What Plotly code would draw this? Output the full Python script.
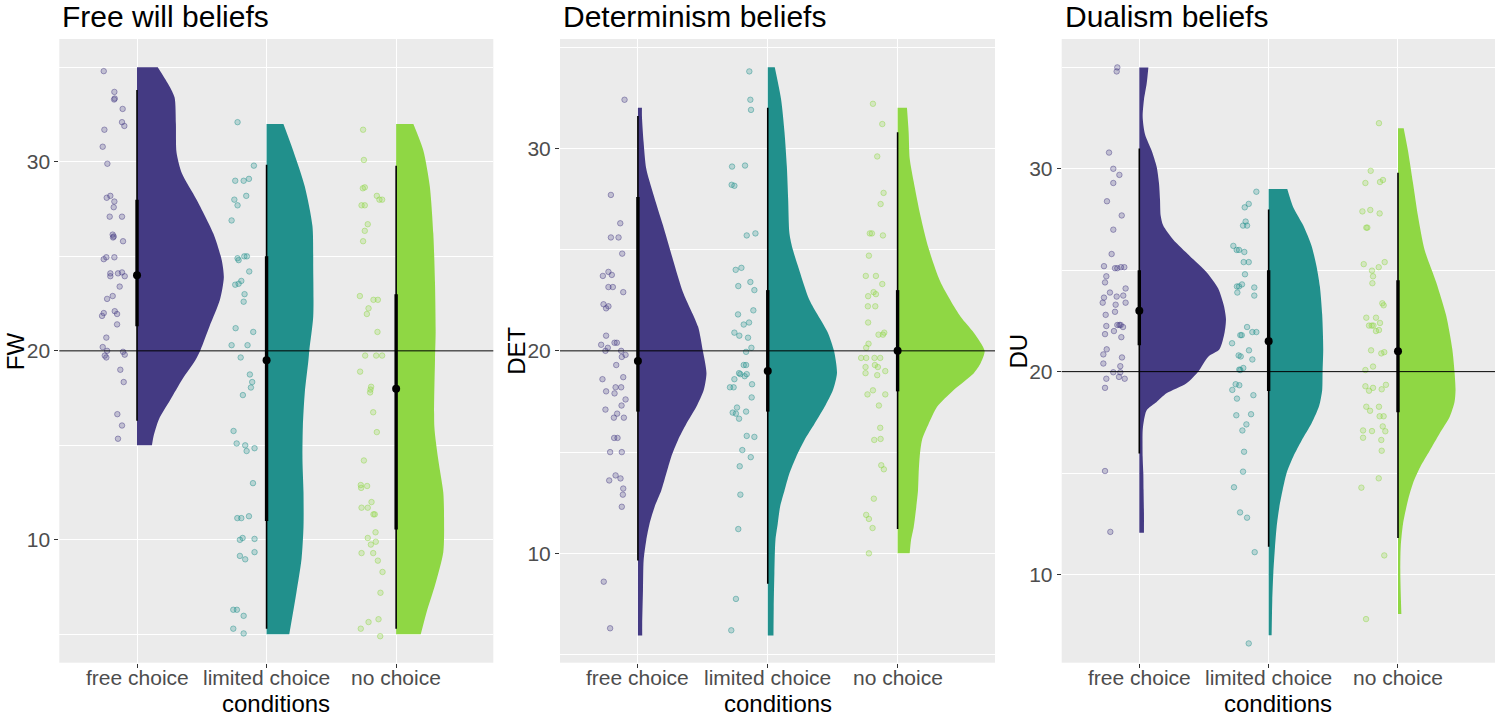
import plotly.graph_objects as go

# categories and fill colours (viridis-like)
conditions = ["free choice", "limited choice", "no choice"]
colors = ["#443A83", "#21908C", "#8FD744"]
pt_fill = ["rgba(68,58,131,0.25)", "rgba(33,144,140,0.25)", "rgba(143,215,68,0.25)"]
pt_line = ["rgba(68,58,131,0.5)", "rgba(33,144,140,0.5)", "rgba(143,215,68,0.5)"]

titles = ["Free will beliefs", "Determinism beliefs", "Dualism beliefs"]
ylabels = ["FW", "DET", "DU"]
ref_value = 20

# ---------------- FW: raw points (score, jitter offset) ----------------
fw_free_y = [34.8, 33.7, 33.3, 33.35, 32.8, 32.1, 31.9, 31.7, 30.8, 29.9, 28.2, 28.1, 27.9, 27.6,
             27.1, 27.1, 26.15, 26.05, 26.0, 25.8, 24.95, 24.85, 24.95, 24.1, 23.95, 24.1, 24.15,
             23.95, 23.4, 22.75, 22.9, 22.0, 21.85, 22.1, 21.95, 21.4, 20.7, 20.2, 20.0, 19.75,
             19.65, 19.95, 19.8, 19.0, 18.35, 16.65, 16.05, 15.35]
fw_free_dx = [-0.257, -0.175, -0.177, -0.172, -0.111, -0.116, -0.098, -0.252, -0.265, -0.229,
              -0.206, -0.234, -0.175, -0.18, -0.211, -0.116, -0.188, -0.18, -0.185, -0.108,
              -0.237, -0.257, -0.175, -0.206, -0.206, -0.147, -0.116, -0.095, -0.134, -0.231,
              -0.188, -0.257, -0.27, -0.172, -0.154, -0.154, -0.237, -0.265, -0.231, -0.249,
              -0.237, -0.108, -0.095, -0.129, -0.103, -0.152, -0.116, -0.147]
fw_lim_y = [32.1, 29.8, 29.0, 29.0, 29.1, 28.0, 27.7, 28.2, 26.9, 24.9, 24.8, 25.0, 25.0, 24.2,
            23.5, 23.55, 23.7, 23.0, 22.6, 21.2, 21.0, 20.3, 20.3, 19.65, 18.75, 18.35, 18.06,
            17.66, 15.76, 15.1, 15.0, 14.85, 14.7, 13.0, 11.15, 11.15, 11.25, 10.0, 10.1, 10.05,
            9.35, 9.15, 8.97, 6.3, 6.3, 5.98, 5.3, 5.05]
fw_lim_dx = [-0.224, -0.098, -0.242, -0.177, -0.136, -0.249, -0.224, -0.157, -0.27, -0.224,
             -0.216, -0.172, -0.152, -0.134, -0.242, -0.216, -0.195, -0.17, -0.177, -0.239,
             -0.103, -0.27, -0.147, -0.2, -0.129, -0.111, -0.121, -0.183, -0.255, -0.231,
             -0.165, -0.093, -0.154, -0.105, -0.226, -0.195, -0.136, -0.206, -0.185, -0.093,
             -0.093, -0.206, -0.165, -0.257, -0.229, -0.177, -0.257, -0.177]
fw_no_y = [31.7, 30.1, 28.6, 28.65, 28.2, 28.0, 28.0, 27.7, 27.7, 26.7, 26.35, 25.8, 22.9, 22.7,
           22.7, 22.25, 21.95, 21.0, 19.75, 19.75, 19.75, 18.9, 18.1, 17.95, 17.8, 16.75, 15.7,
           14.2, 12.9, 12.85, 12.75, 12.0, 11.7, 11.7, 11.35, 11.35, 10.4, 10.1, 9.9, 9.75, 9.3,
           9.3, 8.9, 8.3, 7.2, 5.8, 5.65, 5.3, 4.9]
fw_no_dx = [-0.255, -0.249, -0.257, -0.242, -0.149, -0.108, -0.129, -0.267, -0.242, -0.219,
            -0.242, -0.255, -0.28, -0.175, -0.141, -0.213, -0.226, -0.144, -0.239, -0.154,
            -0.108, -0.278, -0.193, -0.198, -0.201, -0.177, -0.149, -0.249, -0.273, -0.224,
            -0.27, -0.19, -0.267, -0.219, -0.175, -0.165, -0.159, -0.219, -0.157, -0.195,
            -0.267, -0.177, -0.141, -0.105, -0.121, -0.136, -0.213, -0.273, -0.123]

# ---------------- DET: raw points ----------------
det_free_y = [32.4, 27.7, 26.3, 25.6, 25.6, 24.8, 23.7, 23.9, 23.75, 23.15, 23.15, 22.9, 22.3,
              22.1, 22.2, 20.75, 20.3, 20.4, 20.4, 20.0, 20.15, 20.0, 19.7, 19.8, 19.3, 18.7,
              18.6, 18.2, 18.2, 18.0, 17.9, 17.6, 17.3, 17.1, 16.9, 16.7, 16.7, 15.7, 15.7, 15.0,
              15.0, 13.85, 13.6, 13.7, 13.2, 12.9, 12.3, 8.6, 6.3]
det_free_dx = [-0.103, -0.208, -0.136, -0.208, -0.149, -0.121, -0.27, -0.227, -0.201, -0.227,
               -0.193, -0.113, -0.265, -0.245, -0.227, -0.245, -0.283, -0.18, -0.162, -0.25,
               -0.232, -0.129, -0.124, -0.095, -0.167, -0.113, -0.273, -0.172, -0.129, -0.245,
               -0.18, -0.095, -0.126, -0.25, -0.16, -0.185, -0.108, -0.183, -0.157, -0.214,
               -0.124, -0.172, -0.221, -0.134, -0.113, -0.116, -0.124, -0.263, -0.214]
det_lim_y = [33.8, 32.4, 31.9, 29.1, 29.15, 28.2, 28.15, 25.7, 25.8, 24.0, 24.1, 23.2, 23.4, 23.0,
             22.0, 21.8, 21.3, 21.4, 20.9, 20.75, 20.65, 20.15, 19.95, 19.3, 19.3, 18.9, 18.85,
             18.75, 18.85, 18.6, 18.35, 18.2, 18.2, 17.7, 17.2, 17.0, 16.95, 16.9, 16.65, 15.8,
             15.75, 15.1, 14.75, 14.3, 12.9, 11.2, 7.75, 6.2]
det_lim_dx = [-0.142, -0.134, -0.129, -0.275, -0.175, -0.278, -0.257, -0.162, -0.095, -0.247,
              -0.203, -0.227, -0.134, -0.103, -0.111, -0.229, -0.185, -0.144, -0.257, -0.219,
              -0.152, -0.126, -0.167, -0.185, -0.167, -0.221, -0.211, -0.178, -0.162, -0.257,
              -0.121, -0.291, -0.263, -0.124, -0.237, -0.167, -0.27, -0.245, -0.221, -0.162,
              -0.103, -0.196, -0.131, -0.216, -0.211, -0.227, -0.245, -0.281]
det_no_y = [32.2, 31.2, 29.6, 27.8, 27.25, 25.8, 25.8, 25.7, 24.7, 23.7, 23.7, 23.3, 22.7, 22.9,
            22.8, 22.2, 22.2, 21.4, 20.8, 20.8, 20.9, 20.35, 20.15, 19.65, 19.65, 19.65, 19.65,
            19.2, 19.3, 19.2, 18.9, 18.8, 19.0, 18.05, 17.85, 17.85, 17.3, 16.2, 15.6, 15.65,
            14.35, 14.15, 12.7, 11.9, 11.7, 11.25, 10.0]
det_no_dx = [-0.19, -0.118, -0.157, -0.108, -0.131, -0.214, -0.198, -0.113, -0.221, -0.245,
             -0.167, -0.118, -0.227, -0.185, -0.167, -0.229, -0.172, -0.227, -0.147, -0.113,
             -0.103, -0.224, -0.242, -0.281, -0.242, -0.178, -0.134, -0.247, -0.175, -0.152,
             -0.247, -0.157, -0.095, -0.19, -0.232, -0.095, -0.144, -0.134, -0.18, -0.131,
             -0.126, -0.106, -0.183, -0.242, -0.221, -0.193, -0.221]

# ---------------- DU: raw points ----------------
du_free_y = [35.0, 34.8, 30.8, 30.0, 29.7, 29.3, 28.4, 27.7, 27.0, 25.8, 25.2, 25.1, 25.1, 25.15,
             25.15, 24.7, 24.4, 24.1, 23.65, 23.9, 23.7, 23.75, 23.4, 23.4, 23.3, 22.95, 22.8,
             22.3, 22.3, 22.3, 22.25, 22.2, 21.7, 22.0, 21.85, 21.1, 20.85, 20.7, 20.4, 20.27,
             19.97, 19.97, 19.74, 19.65, 19.65, 19.2, 15.1, 12.1]
du_free_dx = [-0.17, -0.175, -0.234, -0.201, -0.154, -0.201, -0.25, -0.136, -0.201, -0.214,
              -0.273, -0.188, -0.17, -0.142, -0.116, -0.255, -0.265, -0.106, -0.273, -0.227,
              -0.175, -0.124, -0.283, -0.106, -0.183, -0.188, -0.26, -0.17, -0.154, -0.144,
              -0.255, -0.126, -0.139, -0.196, -0.265, -0.252, -0.278, -0.134, -0.278, -0.147,
              -0.201, -0.147, -0.157, -0.113, -0.255, -0.265, -0.265, -0.224]
du_lim_y = [28.87, 28.27, 28.1, 27.4, 27.2, 27.2, 26.2, 26.0, 26.0, 25.9, 25.4, 25.4, 24.8, 24.3,
            24.2, 24.2, 23.9, 24.15, 23.75, 22.2, 21.4, 21.8, 21.8, 21.95, 21.95, 21.05, 20.8,
            20.75, 20.6, 20.18, 20.1, 20.08, 19.38, 19.33, 19.1, 18.84, 18.67, 17.9, 17.85, 17.4,
            17.1, 16.05, 15.07, 14.3, 13.06, 12.8, 11.1, 6.6]
du_lim_dx = [-0.095, -0.154, -0.185, -0.178, -0.167, -0.198, -0.273, -0.247, -0.229, -0.188,
             -0.193, -0.154, -0.183, -0.206, -0.245, -0.229, -0.242, -0.111, -0.111, -0.167,
             -0.283, -0.219, -0.208, -0.126, -0.095, -0.152, -0.232, -0.216, -0.126, -0.196,
             -0.227, -0.219, -0.255, -0.227, -0.281, -0.118, -0.245, -0.136, -0.25, -0.172,
             -0.203, -0.19, -0.198, -0.268, -0.221, -0.167, -0.108, -0.154]
du_no_y = [32.25, 29.9, 29.3, 29.35, 29.45, 27.9, 27.97, 27.8, 27.1, 27.1, 25.3, 24.98, 25.15,
           25.4, 24.7, 24.36, 23.37, 23.27, 22.66, 22.66, 22.27, 22.27, 22.27, 22.4, 22.0, 22.05,
           21.05, 20.9, 20.96, 20.25, 20.08, 19.28, 19.06, 19.2, 19.13, 19.35, 18.27, 18.07,
           18.27, 17.8, 17.8, 17.1, 17.07, 17.06, 17.3, 16.74, 16.63, 16.1, 14.74, 14.28, 10.94,
           7.8]
du_no_dx = [-0.147, -0.211, -0.252, -0.139, -0.116, -0.275, -0.214, -0.142, -0.245, -0.237,
            -0.265, -0.201, -0.149, -0.103, -0.193, -0.198, -0.121, -0.111, -0.245, -0.17,
            -0.224, -0.203, -0.19, -0.139, -0.17, -0.147, -0.208, -0.129, -0.106, -0.193,
            -0.252, -0.252, -0.224, -0.193, -0.126, -0.093, -0.245, -0.216, -0.147, -0.142,
            -0.111, -0.27, -0.201, -0.098, -0.118, -0.27, -0.129, -0.126, -0.149, -0.283,
            -0.106, -0.247]

# ---------------- half-violin density profiles (score level, half width) ----------------
fw_free_vy = [15.0, 15.5, 16.4, 17.4, 18.5, 19.5, 20.05, 21.3, 22.7, 23.9, 24.8, 26.2, 28.0,
              29.4, 30.5, 32.0, 33.4, 34.0, 34.5, 35.0]
fw_free_vw = [0.115, 0.128, 0.17, 0.256, 0.35, 0.45, 0.49, 0.56, 0.64, 0.67, 0.654, 0.59, 0.46,
              0.346, 0.305, 0.30, 0.29, 0.25, 0.206, 0.16]
fw_lim_vy = [5.0, 7.2, 9.0, 10.7, 12.5, 14.25, 16.0, 17.8, 19.5, 20.05, 21.8, 24.4, 26.6, 28.7,
             30.6, 32.0]
fw_lim_vw = [0.175, 0.23, 0.27, 0.285, 0.285, 0.277, 0.28, 0.295, 0.323, 0.33, 0.36, 0.36, 0.354,
             0.295, 0.205, 0.13]
fw_no_vy = [5.0, 6.2, 7.6, 9.35, 11.1, 12.5, 14.25, 16.0, 19.5, 21.0, 23.6, 26.2, 28.7, 30.6, 32.0]
fw_no_vw = [0.19, 0.236, 0.30, 0.364, 0.37, 0.364, 0.325, 0.295, 0.30, 0.305, 0.30, 0.287, 0.26,
            0.21, 0.133]

det_free_vy = [5.94, 6.5, 8.17, 9.65, 10.64, 11.47, 12.3, 13.1, 13.95, 14.77, 15.6, 16.4, 17.24,
               18.07, 18.9, 20.0, 21.2, 22.9, 24.5, 26.2, 27.8, 29.0, 30.3, 31.6, 32.0]
det_free_vw = [0.033, 0.033, 0.039, 0.044, 0.064, 0.09, 0.129, 0.18, 0.219, 0.257, 0.309, 0.373,
               0.45, 0.507, 0.528, 0.50, 0.463, 0.347, 0.27, 0.193, 0.116, 0.064, 0.044, 0.031,
               0.031]
det_lim_vy = [5.94, 7.3, 9.0, 10.64, 11.47, 12.3, 13.1, 13.95, 14.77, 15.6, 16.4, 17.24, 18.07,
              18.9, 20.0, 20.9, 22.5, 24.2, 25.0, 25.8, 27.5, 29.1, 30.8, 32.4, 34.0]
det_lim_vw = [0.044, 0.046, 0.051, 0.059, 0.077, 0.095, 0.129, 0.167, 0.219, 0.283, 0.36, 0.438,
              0.502, 0.533, 0.51, 0.463, 0.322, 0.232, 0.193, 0.167, 0.157, 0.147, 0.129, 0.103,
              0.054]
det_no_vy = [10.0, 10.64, 11.3, 12.3, 13.1, 13.95, 14.77, 15.6, 16.4, 17.24, 18.07, 18.9, 19.4,
             20.0, 20.9, 21.7, 23.4, 25.05, 26.7, 28.35, 29.5, 30.8, 32.0]
det_no_vw = [0.093, 0.103, 0.124, 0.144, 0.157, 0.162, 0.17, 0.188, 0.239, 0.304, 0.432, 0.587,
             0.64, 0.67, 0.587, 0.484, 0.33, 0.239, 0.175, 0.124, 0.093, 0.085, 0.072]

du_free_vy = [12.06, 13.0, 14.16, 15.0, 15.8, 17.1, 17.6, 18.1, 18.5, 18.93, 19.43, 20.0, 20.74,
              21.1, 21.95, 22.6, 23.25, 24.1, 24.9, 25.7, 26.5, 27.2, 27.7, 28.5, 29.3, 30.1,
              30.9, 31.7, 32.55, 33.4, 34.2, 35.0]
du_free_vw = [0.036, 0.036, 0.033, 0.031, 0.026, 0.026, 0.036, 0.057, 0.134, 0.21, 0.365, 0.455,
              0.533, 0.62, 0.66, 0.67, 0.654, 0.61, 0.52, 0.39, 0.263, 0.185, 0.165, 0.16, 0.152,
              0.134, 0.095, 0.044, 0.026, 0.036, 0.057, 0.07]
du_lim_vy = [7.0, 8.7, 10.05, 11.35, 12.35, 13.3, 14.16, 15.0, 15.8, 16.6, 17.45, 18.3, 19.1,
             20.0, 21.1, 22.8, 24.2, 25.2, 26.2, 27.2, 28.1, 29.0]
du_lim_vw = [0.023, 0.028, 0.036, 0.049, 0.062, 0.082, 0.108, 0.139, 0.19, 0.255, 0.332, 0.39,
             0.414, 0.417, 0.422, 0.414, 0.396, 0.37, 0.332, 0.268, 0.19, 0.144]
du_no_vy = [8.05, 10.05, 11.35, 12.5, 13.66, 14.5, 15.3, 16.1, 16.95, 17.77, 18.5, 19.1, 20.0,
            21.1, 22.75, 24.4, 26.0, 27.7, 29.3, 30.9, 32.0]
du_no_vw = [0.026, 0.018, 0.021, 0.039, 0.077, 0.116, 0.172, 0.245, 0.322, 0.40, 0.437, 0.445,
            0.437, 0.42, 0.373, 0.296, 0.206, 0.154, 0.116, 0.077, 0.044]

# ---------------- interval summaries per condition ----------------
# median, thick interval (lo, hi), thin interval (lo, hi)
fw_median = [24.0, 19.5, 18.0]
fw_thick = [(21.3, 28.0), (11.0, 25.0), (10.55, 23.0)]
fw_thin = [(16.3, 33.8), (5.3, 29.85), (5.3, 29.8)]
det_median = [19.5, 19.0, 20.0]
det_thick = [(17.0, 27.6), (17.0, 23.0), (18.0, 23.0)]
det_thin = [(9.65, 31.6), (8.5, 32.0), (11.2, 30.8)]
du_median = [23.0, 21.5, 21.0]
du_thick = [(21.3, 25.0), (19.05, 25.0), (18.0, 24.5)]
du_thin = [(15.97, 31.0), (11.37, 28.0), (11.8, 29.8)]

y_ranges = [[3.5, 36.5], [4.6, 35.4], [5.65, 36.4]]

panels = [
    dict(pts=[(fw_free_y, fw_free_dx), (fw_lim_y, fw_lim_dx), (fw_no_y, fw_no_dx)],
         dens=[(fw_free_vy, fw_free_vw), (fw_lim_vy, fw_lim_vw), (fw_no_vy, fw_no_vw)],
         med=fw_median, thick=fw_thick, thin=fw_thin),
    dict(pts=[(det_free_y, det_free_dx), (det_lim_y, det_lim_dx), (det_no_y, det_no_dx)],
         dens=[(det_free_vy, det_free_vw), (det_lim_vy, det_lim_vw), (det_no_vy, det_no_vw)],
         med=det_median, thick=det_thick, thin=det_thin),
    dict(pts=[(du_free_y, du_free_dx), (du_lim_y, du_lim_dx), (du_no_y, du_no_dx)],
         dens=[(du_free_vy, du_free_vw), (du_lim_vy, du_lim_vw), (du_no_vy, du_no_vw)],
         med=du_median, thick=du_thick, thin=du_thin),
]

# the page's body margin is removed (see post_script), so pixels map 1:1
W, H = 1498, 718


def px_x(px):
    return px / W


def px_y(py):
    return 1 - py / H


x_px = [(59.3, 493.3), (560.0, 995.0), (1061.7, 1495.0)]
x_domains = [[px_x(a), px_x(b)] for a, b in x_px]
y_domain = [px_y(662.7), px_y(39)]
FONT = "Liberation Sans, Arial, sans-serif"

fig = go.Figure()

for p, panel in enumerate(panels):
    xa = "x" if p == 0 else "x%d" % (p + 1)
    ya = "y" if p == 0 else "y%d" % (p + 1)
    for i in range(3):
        pos = i + 1
        # jittered raw points
        py, pdx = panel["pts"][i]
        fig.add_trace(go.Scatter(
            x=[pos + d for d in pdx], y=py, mode="markers", xaxis=xa, yaxis=ya,
            marker=dict(size=5.5, color=pt_fill[i], line=dict(color=pt_line[i], width=0.9)),
            showlegend=False, hoverinfo="skip"))
        # half violin: straight left edge, smooth density curve filled towards it
        vy, vw = panel["dens"][i]
        fig.add_trace(go.Scatter(
            x=[pos, pos], y=[vy[0], vy[-1]], mode="lines", line=dict(width=0),
            xaxis=xa, yaxis=ya, showlegend=False, hoverinfo="skip"))
        fig.add_trace(go.Scatter(
            x=[pos + w for w in vw], y=vy, mode="lines", fill="tonextx", fillcolor=colors[i],
            line=dict(width=0, color=colors[i], shape="spline", smoothing=0.7),
            xaxis=xa, yaxis=ya, showlegend=False, hoverinfo="skip"))
        # interval + median
        fig.add_trace(go.Scatter(
            x=[pos, pos], y=list(panel["thin"][i]), mode="lines", xaxis=xa, yaxis=ya,
            line=dict(color="black", width=1.6), showlegend=False, hoverinfo="skip"))
        fig.add_trace(go.Scatter(
            x=[pos, pos], y=list(panel["thick"][i]), mode="lines", xaxis=xa, yaxis=ya,
            line=dict(color="black", width=3.4), showlegend=False, hoverinfo="skip"))
        fig.add_trace(go.Scatter(
            x=[pos], y=[panel["med"][i]], mode="markers", xaxis=xa, yaxis=ya,
            marker=dict(size=8, color="black"), showlegend=False, hoverinfo="skip"))

        # category label under the tick
        fig.add_annotation(text=conditions[i], xref=xa, yref="paper", x=pos, y=px_y(677),
                           xanchor="center", yanchor="middle", showarrow=False,
                           font=dict(family=FONT, size=21, color="#4D4D4D"))

    axis_x = dict(domain=x_domains[p], range=[0.4, 3.75], tickvals=[1, 2, 3],
                  showticklabels=False,
                  showgrid=True, gridcolor="white", gridwidth=1.2, zeroline=False,
                  ticks="outside", ticklen=4, tickcolor="#333333", tickwidth=1,
                  anchor=ya, showline=False, fixedrange=True)
    axis_y = dict(domain=y_domain, range=y_ranges[p], tick0=0, dtick=10,
                  showgrid=True, gridcolor="white", gridwidth=1.2, zeroline=False,
                  ticks="outside", ticklen=4, tickcolor="#333333", tickwidth=1,
                  tickfont=dict(family=FONT, size=21, color="#4D4D4D"), anchor=xa,
                  minor=dict(dtick=5, tick0=0, showgrid=True, gridcolor="white", gridwidth=0.6,
                             ticks=""),
                  showline=False, fixedrange=True)
    fig.update_layout({("xaxis" if p == 0 else "xaxis%d" % (p + 1)): axis_x,
                       ("yaxis" if p == 0 else "yaxis%d" % (p + 1)): axis_y})

    # reference line at 20
    fig.add_shape(type="line", xref=xa + " domain", yref=ya, x0=0, x1=1,
                  y0=ref_value, y1=ref_value, line=dict(color="black", width=1))

    left_px, right_px = x_px[p]
    fig.add_annotation(text=titles[p], xref="paper", yref="paper", x=px_x(left_px + 1),
                       y=px_y(17), xanchor="left", yanchor="middle", showarrow=False,
                       font=dict(family=FONT, size=30, color="black"))
    fig.add_annotation(text=ylabels[p], xref="paper", yref="paper", x=px_x(left_px - 43),
                       y=(y_domain[0] + y_domain[1]) / 2, xanchor="center", yanchor="middle",
                       textangle=-90, showarrow=False,
                       font=dict(family=FONT, size=24, color="black"))
    fig.add_annotation(text="conditions", xref="paper", yref="paper",
                       x=px_x((left_px + right_px) / 2), y=px_y(703),
                       xanchor="center", yanchor="middle", showarrow=False,
                       font=dict(family=FONT, size=24, color="black"))

fig.update_layout(width=W, height=H, margin=dict(l=0, r=0, t=0, b=0),
                  paper_bgcolor="white", plot_bgcolor="#EBEBEB", showlegend=False)

fig.write_html("out.html", config={"displayModeBar": False},
               post_script="document.body.style.margin='0px';"
                           "document.body.style.overflow='hidden';")
